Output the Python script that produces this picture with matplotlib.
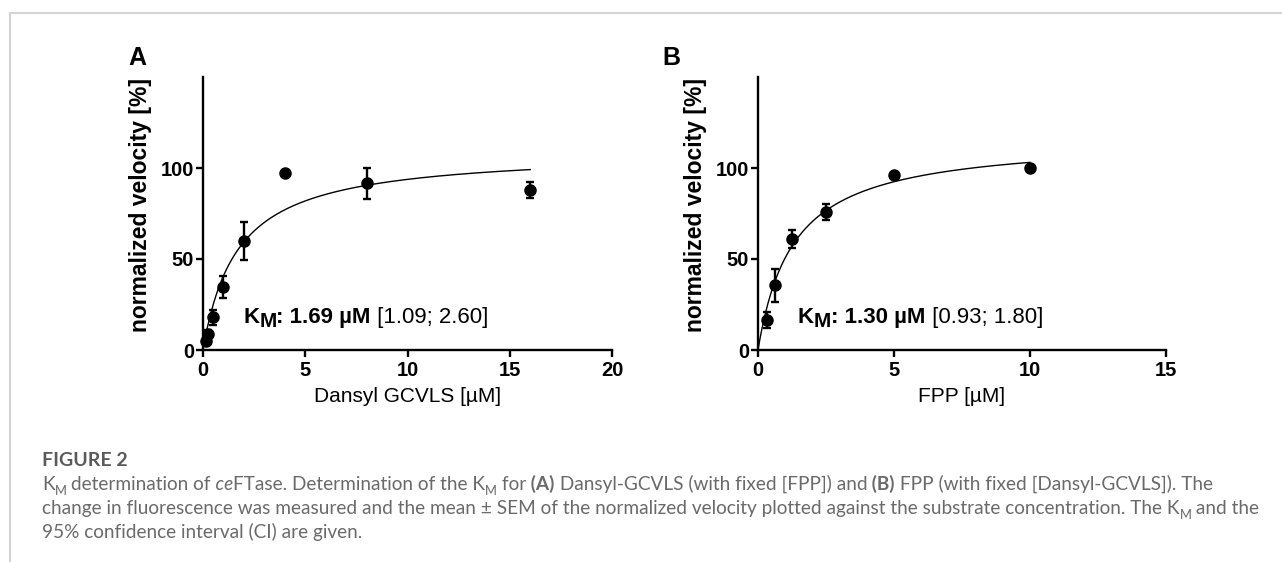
import numpy as np
import matplotlib
matplotlib.use('Agg')
import matplotlib.pyplot as plt
from matplotlib.lines import Line2D

W, H = 1282, 562

# panel A - Dansyl-GCVLS, fixed FPP
conc_a = [0.125, 0.25, 0.5, 1, 2, 4, 8, 16]
vel_a = [5, 9, 18, 34.5, 60, 97, 91.5, 88]
sem_a = [1.5, 2, 4, 6, 10.5, 1, 8.5, 4.5]
km_a, vmax_a = 1.69, 109.6
ci_a = ' [1.09; 2.60]'

# panel B - FPP, fixed Dansyl-GCVLS
conc_b = [0.3125, 0.625, 1.25, 2.5, 5, 10]
vel_b = [16.5, 35.5, 61, 76, 96, 100]
sem_b = [4.5, 9, 4.8, 4.4, 1, 0]
km_b, vmax_b = 1.30, 116.5
ci_b = ' [0.93; 1.80]'

plot_font = 'Liberation Sans'
cap_font = 'Lato'
cap_color = '#6a6a6a'

fig = plt.figure(figsize=(W / 100, H / 100), dpi=100)
renderer = fig.canvas.get_renderer()


def put_runs(x, y, runs, size, family, color, sub_scale=0.68, sub_drop=0.28):
    """Write text pieces one after the other, x/y in pixels from bottom left."""
    for s, kind in runs:
        fs, dy = size, 0
        weight = 'bold' if kind in ('b', 'bsub') else 'normal'
        style = 'italic' if kind == 'i' else 'normal'
        if kind in ('sub', 'bsub'):
            fs = size * sub_scale
            dy = size * sub_drop * 100 / 72
        t = fig.text(x / W, (y - dy) / H, s, fontsize=fs, family=family, color=color,
                     fontweight=weight, fontstyle=style, ha='left', va='baseline')
        x += t.get_window_extent(renderer).width
    return x


def draw_panel(ax, conc, vel, sem, km, vmax, ci, xmax, xticks, xlabel, km_x):
    x_fit = np.linspace(0, conc[-1], 300)
    ax.plot(x_fit, vmax * x_fit / (km + x_fit), color='black', lw=1.0)
    ax.errorbar(conc, vel, yerr=sem, fmt='o', color='black', ms=8, capsize=3.2,
                elinewidth=1.7, capthick=1.7, clip_on=False, zorder=3)
    ax.set_xlim(0, xmax)
    ax.set_ylim(0, 150)
    ax.set_xticks(xticks)
    ax.set_yticks([0, 50, 100])
    for s in ['top', 'right']:
        ax.spines[s].set_visible(False)
    for s in ['left', 'bottom']:
        ax.spines[s].set_linewidth(1.7)
    ax.tick_params(length=5, width=1.7, labelsize=14.5)
    ax.tick_params(axis='x', pad=3)
    ax.tick_params(axis='y', pad=1.5)
    for lab in ax.get_xticklabels() + ax.get_yticklabels():
        lab.set_fontweight('bold')
        lab.set_family(plot_font)
    ax.set_xlabel(xlabel, fontsize=15, family=plot_font, va='top')
    ax.xaxis.set_label_coords(0.5, -0.135)
    ax.set_ylabel('normalized velocity [%]', fontsize=16.5, fontweight='bold', family=plot_font)
    ax.yaxis.set_label_coords(-0.125, 0.531)

    px, py = ax.transData.transform((km_x, 15))
    put_runs(px, py, [('K', 'b'), ('M', 'bsub'), (': %.2f µM' % km, 'b'), (ci, 'r')],
             16, plot_font, 'black', sub_scale=0.93, sub_drop=0.2)


ax_a = fig.add_axes([203 / W, 1 - 350 / H, 409 / W, 273 / H])
ax_b = fig.add_axes([758 / W, 1 - 350 / H, 408 / W, 273 / H])
draw_panel(ax_a, conc_a, vel_a, sem_a, km_a, vmax_a, ci_a, 20, [0, 5, 10, 15, 20],
           'Dansyl GCVLS [µM]', 1.96)
draw_panel(ax_b, conc_b, vel_b, sem_b, km_b, vmax_b, ci_b, 15, [0, 5, 10, 15],
           'FPP [µM]', 1.47)

fig.text(128 / W, 1 - 65 / H, 'A', fontsize=18, fontweight='bold', family=plot_font, va='baseline')
fig.text(662 / W, 1 - 65 / H, 'B', fontsize=18, fontweight='bold', family=plot_font, va='baseline')

# frame lines of the page
fig.add_artist(Line2D([10 / W, 1], [1 - 13 / H, 1 - 13 / H], color='#d4d4d4', lw=1.5))
fig.add_artist(Line2D([10 / W, 10 / W], [0, 1 - 13 / H], color='#d4d4d4', lw=1.5))

# caption
cap_size = 13.7
fig.text(42 / W, 1 - 466 / H, 'FIGURE 2', fontsize=14, fontweight='bold',
         family=cap_font, color='#5a5a5a', va='baseline')
line1 = [('K', 'r'), ('M', 'sub'), (' determination of', 'r'), (' ce', 'i'),
         ('FTase. Determination of the K', 'r'), ('M', 'sub'), (' for', 'r'), (' (A)', 'b'),
         (' Dansyl-GCVLS (with fixed [FPP]) and', 'r'), (' (B)', 'b'),
         (' FPP (with fixed [Dansyl-GCVLS]). The', 'r')]
line2 = [('change in fluorescence was measured and the mean ± SEM of the normalized velocity '
          'plotted against the substrate concentration. The K', 'r'), ('M', 'sub'), (' and the', 'r')]
line3 = [('95% confidence interval (CI) are given.', 'r')]
put_runs(42, H - 490, line1, cap_size, cap_font, cap_color)
put_runs(42, H - 514, line2, cap_size, cap_font, cap_color)
put_runs(42, H - 538, line3, cap_size, cap_font, cap_color)

fig.savefig('out.png', dpi=100)
